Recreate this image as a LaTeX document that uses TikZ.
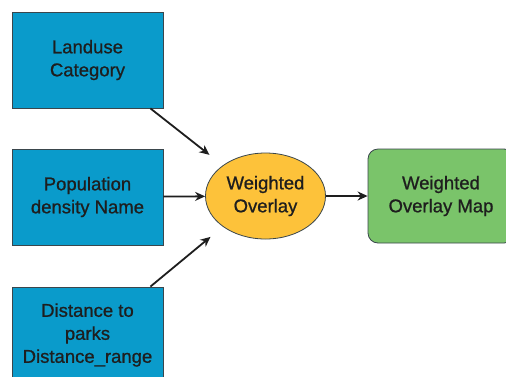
\documentclass[tikz,border=0pt]{standalone}
\usepackage{fontspec}
\setmainfont[FakeBold=0.9]{Liberation Sans}
\usetikzlibrary{arrows.meta, shapes.geometric}
\definecolor{lyrblue}{HTML}{0A9BCB}
\definecolor{toolyel}{HTML}{FDC23A}
\definecolor{outgrn}{HTML}{7AC46A}
\definecolor{txt}{HTML}{1E1E1E}
\definecolor{edge}{HTML}{3A464C}
\tikzset{
    arrow/.style={-{Stealth[length=10pt,width=9pt]},line width=1.8pt,draw=txt},
    layer/.style={draw=edge,line width=0.8pt,fill=lyrblue,minimum width=151pt,
        minimum height=96pt,align=center,text=txt,inner sep=0pt},
    tool/.style={ellipse,draw=edge,line width=0.8pt,fill=toolyel,minimum width=120pt,
        minimum height=86pt,align=center,text=txt,inner sep=0pt},
    result/.style={draw=edge,line width=0.8pt,fill=outgrn,rounded corners=10pt,
        minimum width=146pt,minimum height=94pt,align=center,text=txt,inner sep=0pt}
}
\begin{document}
\begin{tikzpicture}[x=1pt,y=-1pt,font=\fontsize{18.5}{23}\selectfont]
    \useasboundingbox (0,0) rectangle (506,376);
    \fill[white] (0,0) rectangle (506,376);
    \node[layer] (landuse) at (87.5,60) {Landuse\\Category};
    \node[layer] (popden) at (87.5,197) {Population\\density Name};
    \node[layer] (parks) at (87.5,335) {Distance to\\parks\\Distance\_range};
    \node[tool] (overlay) at (265.5,196) {Weighted\\Overlay};
    \node[result] (wmap) at (441,196) {Weighted\\Overlay Map};
    \draw[arrow,shorten >=17pt] ([xshift=-13pt]landuse.south east) -- (overlay.north west);
    \draw[arrow] (popden) -- (overlay);
    \draw[arrow,shorten >=16pt] ([xshift=-13pt]parks.north east) -- (overlay.south west);
    \draw[arrow] (overlay) -- (wmap);
\end{tikzpicture}
\end{document}
